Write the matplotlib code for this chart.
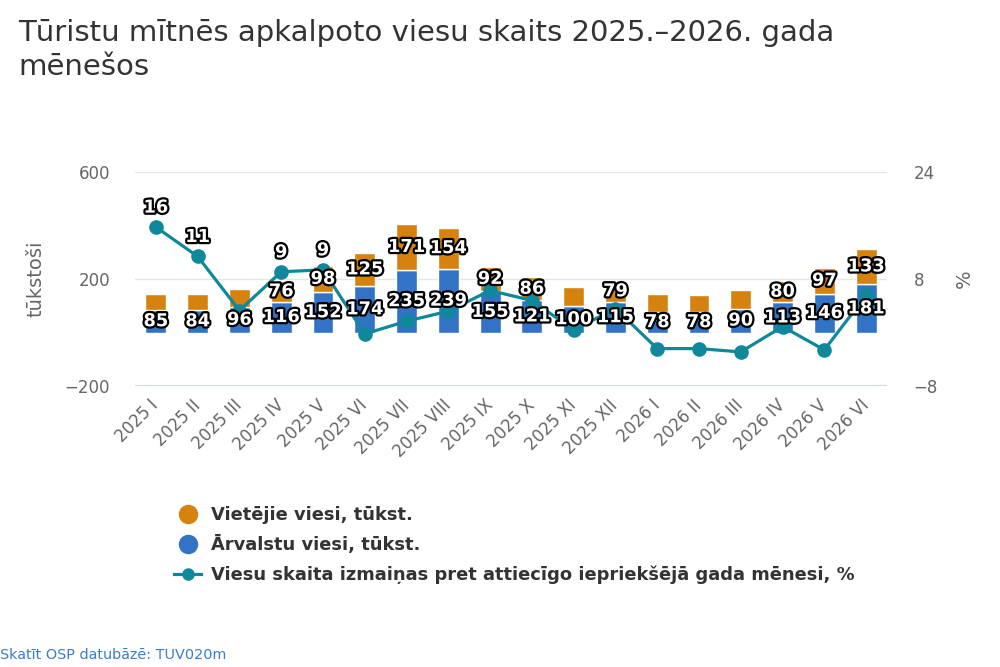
"""
Tūristu mītnēs apkalpoto viesu skaits 2025.–2026. gada mēnešos.
Stacked bars (local / foreign guests, thousands) + y/y change line (%).
"""

import matplotlib
matplotlib.use("Agg")
import matplotlib.pyplot as plt
import matplotlib.patheffects as pe
from matplotlib.lines import Line2D
import numpy as np


# =============================================================================
# DATA
# =============================================================================

MONTHS = [
    "2025 I", "2025 II", "2025 III", "2025 IV", "2025 V", "2025 VI",
    "2025 VII", "2025 VIII", "2025 IX", "2025 X", "2025 XI", "2025 XII",
    "2026 I", "2026 II", "2026 III", "2026 IV", "2026 V", "2026 VI",
]

# thousands
FOREIGN = [85, 84, 96, 116, 152, 174, 235, 239, 155, 121, 100, 115,
           78, 78, 90, 113, 146, 181]
LOCAL = [61, 62, 68, 76, 98, 125, 171, 154, 92, 86, 71, 79,
         68, 61, 68, 80, 97, 133]

# % change vs same month of previous year
CHANGE = [15.8, 11.4, 3.3, 9.1, 9.4, -0.2, 1.7, 3.2, 6.3, 4.8, 0.4, 3.6,
          -2.4, -2.4, -2.9, 0.9, -2.6, 5.6]

# labels the original chart dropped because they overlapped
HIDE_LOCAL = {0, 1, 2, 10, 12, 13, 14}
SHOW_CHANGE = {0, 1, 3, 4}

# =============================================================================
# STYLE
# =============================================================================

C_LOCAL = "#d6820f"
C_FOREIGN = "#3273c6"
C_LINE = "#10889b"
C_TEXT = "#333333"
C_TICK = "#666666"

plt.rcParams["font.family"] = ["DejaVu Sans"]

OUTLINE = [pe.withStroke(linewidth=3.2, foreground="black")]


def _bar_label(ax_top, ax_data, x, y, s):
    ax_top.text(x, y, s, transform=ax_data.transData, ha="center", va="center",
                fontsize=12.8, fontweight="bold", color="white",
                path_effects=OUTLINE, zorder=10, clip_on=False)


def main():
    x = np.arange(len(MONTHS))
    foreign = np.array(FOREIGN)
    local = np.array(LOCAL)

    fig = plt.figure(figsize=(10, 6.67), dpi=100)
    ax = fig.add_axes([0.135, 0.4213, 0.752, 0.3204])
    ax2 = ax.twinx()

    # ── bars ────────────────────────────────────────────────────────────────
    ax.bar(x, foreign, width=0.5, color=C_FOREIGN, edgecolor="white",
           linewidth=1, zorder=3)
    ax.bar(x, local, bottom=foreign, width=0.5, color=C_LOCAL,
           edgecolor="white", linewidth=1, zorder=3)

    ax.set_xlim(-0.5, len(MONTHS) - 0.5)
    ax.set_ylim(-200, 600)
    ax.set_yticks([-200, 200, 600])
    ax.grid(axis="y", color="#e6e6e6", linewidth=1, zorder=0)
    ax.axhline(-200, color="#ccd6eb", linewidth=1.5, zorder=1)
    for sp in ax.spines.values():
        sp.set_visible(False)
    ax.tick_params(axis="both", length=0, labelsize=12, labelcolor=C_TICK)
    ax.tick_params(axis="y", pad=18)
    ax.set_xticks(x)
    ax.set_xticklabels(MONTHS, rotation=45, ha="right", va="center",
                       rotation_mode="anchor")
    ax.tick_params(axis="x", pad=12)
    ax.set_ylabel("tūkstoši", fontsize=14, color=C_TICK, labelpad=14)

    # ── line (secondary axis) ───────────────────────────────────────────────
    ax2.plot(x, CHANGE, color=C_LINE, linewidth=2.3, marker="o",
             markersize=9.5, zorder=5)
    ax2.set_ylim(-8, 24)
    ax2.set_yticks([-8, 8, 24])
    for sp in ax2.spines.values():
        sp.set_visible(False)
    ax2.tick_params(axis="y", length=0, labelsize=12, labelcolor=C_TICK,
                    pad=19)
    ax2.set_ylabel("%", fontsize=14, color=C_TICK, labelpad=12)

    # ── data labels ─────────────────────────────────────────────────────────
    for i in x:
        _bar_label(ax2, ax, i, foreign[i] / 2, f"{foreign[i]}")
        if i not in HIDE_LOCAL:
            _bar_label(ax2, ax, i, foreign[i] + local[i] / 2, f"{local[i]}")
        if i in SHOW_CHANGE:
            ax2.annotate(f"{round(CHANGE[i])}", (i, CHANGE[i]),
                         xytext=(0, 14), textcoords="offset points",
                         ha="center", va="center", fontsize=12.8,
                         fontweight="bold", color="white",
                         path_effects=OUTLINE, zorder=10)

    # ── title / legend / footer ─────────────────────────────────────────────
    fig.text(0.018, 0.972,
             "Tūristu mītnēs apkalpoto viesu skaits 2025.–2026. gada\nmēnešos",
             ha="left", va="top", fontsize=21, color=C_TEXT, linespacing=1.3)

    handles = [
        Line2D([0], [0], linestyle="none", marker="o", markersize=13,
               color=C_LOCAL, label="Vietējie viesi, tūkst."),
        Line2D([0], [0], linestyle="none", marker="o", markersize=13,
               color=C_FOREIGN, label="Ārvalstu viesi, tūkst."),
        Line2D([0], [0], color=C_LINE, linewidth=2.3, marker="o",
               markersize=8,
               label="Viesu skaita izmaiņas pret attiecīgo iepriekšējā gada mēnesi, %"),
    ]
    leg = fig.legend(handles=handles, loc="upper left",
                     bbox_to_anchor=(0.167, 0.252), frameon=False,
                     fontsize=12.9, handlelength=1.5, handletextpad=0.55,
                     labelspacing=0.62, borderaxespad=0)
    for t in leg.get_texts():
        t.set_color(C_TEXT)
        t.set_fontweight("bold")

    fig.text(0.0, 0.008, "Skatīt OSP datubāzē: TUV020m", ha="left",
             va="bottom", fontsize=10.4, color="#3a7dc9")

    fig.savefig("out.png", dpi=100)
    plt.close(fig)


if __name__ == "__main__":
    main()
